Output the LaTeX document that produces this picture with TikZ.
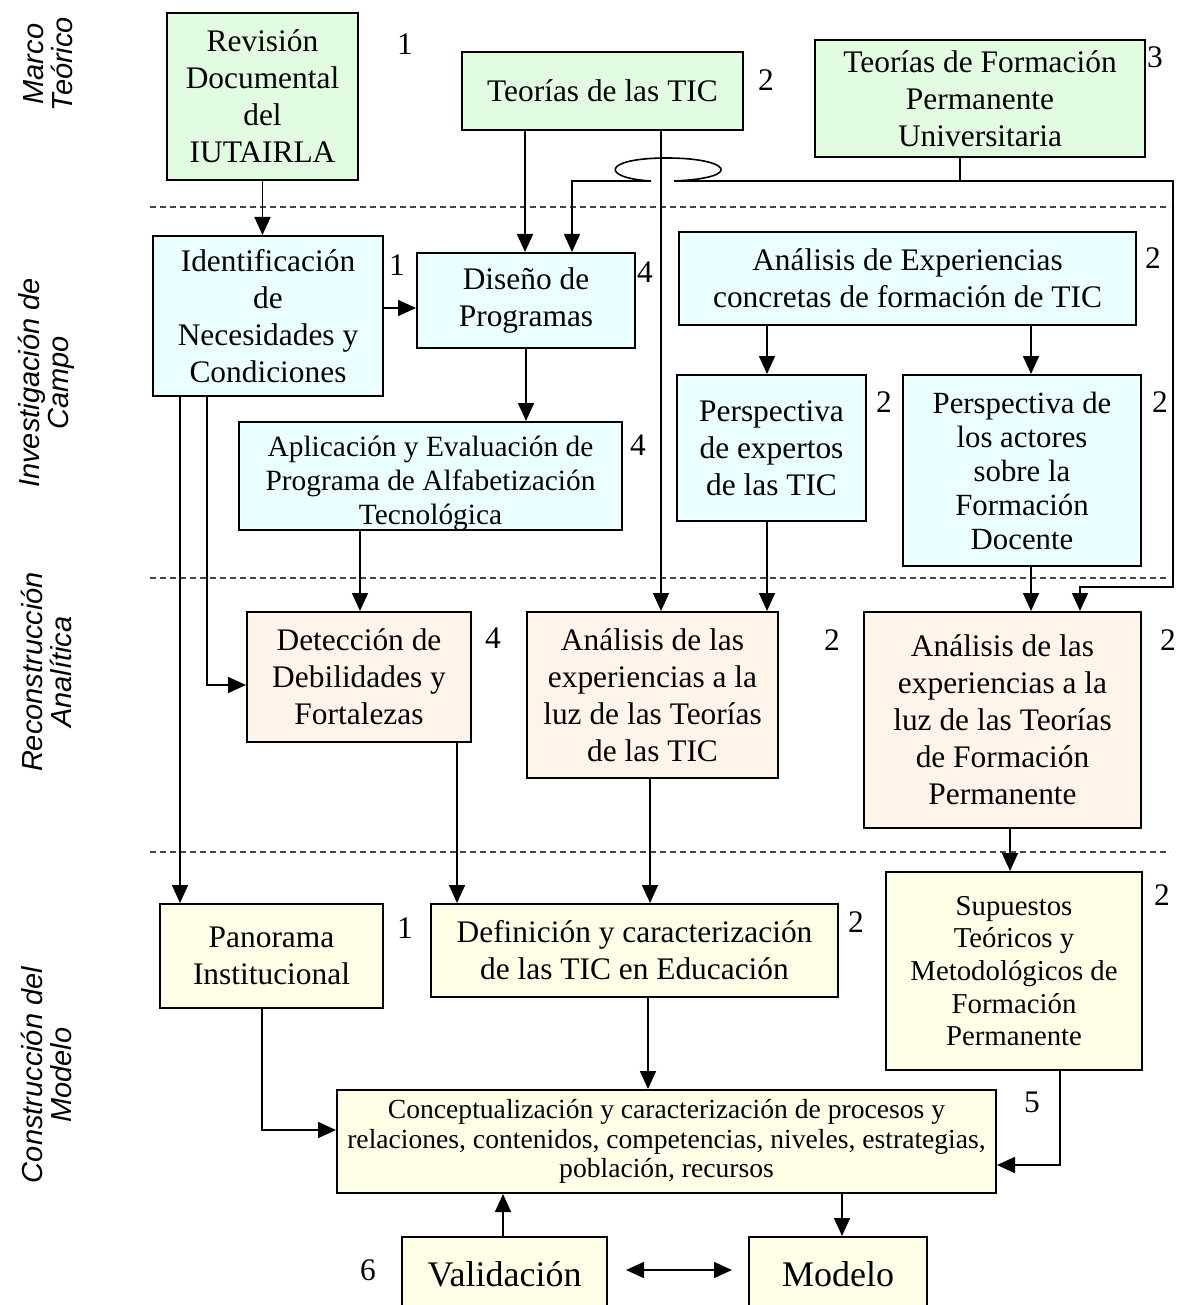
\documentclass[tikz,border=0pt]{standalone}
\usepackage{fontspec}
\setmainfont{Liberation Serif}
\newfontfamily\lblfont{Liberation Sans}
\usetikzlibrary{arrows.meta}
\definecolor{cgreen}{RGB}{226,252,226}
\definecolor{ccyan}{RGB}{234,255,255}
\definecolor{cpeach}{RGB}{255,244,234}
\definecolor{cyellow}{RGB}{255,255,232}
\definecolor{csep}{RGB}{70,70,70}
\newcommand\fsBig{\fontsize{15.7}{18.5}\selectfont}
\newcommand\fsAct{\fontsize{15.4}{17}\selectfont}
\newcommand\fsMid{\fontsize{14.7}{17}\selectfont}
\newcommand\fsSup{\fontsize{14.4}{16.3}\selectfont}
\newcommand\fsCon{\fontsize{13.8}{14.8}\selectfont}
\newcommand\fsVal{\fontsize{18}{21}\selectfont}
\newcommand\fsLbl{\fontsize{14.5}{14.5}\selectfont}
\begin{document}
\begin{tikzpicture}[x=0.5pt,y=-0.5pt,
  box/.style={draw, line width=1pt, inner sep=0pt, align=center, font=\fsBig},
  txt/.style={inner sep=0pt, align=center},
  num/.style={inner sep=0pt, font=\fsBig},
  lbl/.style={inner sep=0pt, align=center, rotate=90, font=\lblfont\itshape\fsLbl},
  arr/.style={line width=0.8pt, -{Triangle[length=9pt,width=8pt]}},
  darr/.style={line width=0.8pt, {Triangle[length=9pt,width=8pt]}-{Triangle[length=9pt,width=8pt]}},
  ln/.style={line width=0.8pt},
  sep/.style={line width=0.7pt, csep, dash pattern=on 3pt off 2pt}]
\useasboundingbox (0,0) rectangle (1178,1305);
\clip (0,0) rectangle (1178,1305);

% separators
\draw[sep] (150,207) -- (1170,207);
\draw[sep] (150,578) -- (1170,578);
\draw[sep] (150,852) -- (1170,852);

% side labels
\node[lbl] (l1) at (48,64) {Marco\\Teórico};
\node[lbl] (l2) at (46,383) {Investigación de\\Campo};
\node[lbl] (l3) at (46,672) {Reconstrucción\\Analítica};
\node[lbl] (l4) at (46,1075) {Construcción del\\Modelo};

% row 1
\node[box, fill=cgreen, minimum width=95.5pt, minimum height=83.5pt] (rev) at (262.5,96.5) {Revisión\\Documental\\del\\IUTAIRLA};
\node[box, fill=cgreen, minimum width=140.5pt, minimum height=39pt] (ttic) at (602.5,91) {Teorías de las TIC};
\node[box, fill=cgreen, minimum width=165pt, minimum height=58.5pt] (tfp) at (980,98.5) {Teorías de Formación\\Permanente\\Universitaria};

% row 2
\node[box, fill=ccyan, minimum width=115pt, minimum height=80pt] (ident) at (268,316) {Identificación\\de\\Necesidades y\\Condiciones};
\node[box, fill=ccyan, minimum width=109pt, minimum height=47.5pt] (dis) at (526,300.5) {Diseño de\\Programas};
\node[box, fill=ccyan, minimum width=228.5pt, minimum height=46.5pt] (aexp) at (907.5,278.5) {Análisis de Experiencias\\concretas de formación de TIC};
\node[box, fill=ccyan, minimum width=191.5pt, minimum height=54pt] (apl) at (430.5,476) {};
\node[txt, font=\fsMid] (aplt) at (430.5,483) {Aplicación y Evaluación de\\Programa de Alfabetización\\Tecnológica};
\node[box, fill=ccyan, minimum width=94.5pt, minimum height=73pt] (pexp) at (771.5,448) {Perspectiva\\de expertos\\de las TIC};
\node[box, fill=ccyan, minimum width=119pt, minimum height=95.5pt, font=\fsAct] (pact) at (1022,470.5) {Perspectiva de\\los actores\\sobre la\\Formación\\Docente};

% row 3
\node[box, fill=cpeach, minimum width=112pt, minimum height=65pt] (det) at (359,677) {Detección de\\Debilidades y\\Fortalezas};
\node[box, fill=cpeach, minimum width=125.5pt, minimum height=83pt] (atic) at (652.5,695) {Análisis de las\\experiencias a la\\luz de las Teorías\\de las TIC};
\node[box, fill=cpeach, minimum width=138.5pt, minimum height=108pt] (afp) at (1002.5,720) {Análisis de las\\experiencias a la\\luz de las Teorías\\de Formación\\Permanente};

% row 4
\node[box, fill=cyellow, minimum width=111.5pt, minimum height=52pt] (pan) at (271.5,956) {Panorama\\Institucional};
\node[box, fill=cyellow, minimum width=203.5pt, minimum height=46.5pt] (def) at (634.5,950.5) {Definición y caracterización\\de las TIC en Educación};
\node[box, fill=cyellow, minimum width=128pt, minimum height=99pt, font=\fsSup] (sup) at (1014,971) {Supuestos\\Teóricos y\\Metodológicos de\\Formación\\Permanente};
\node[box, fill=cyellow, minimum width=329.5pt, minimum height=51.5pt, font=\fsCon] (con) at (666.5,1141.5) {Conceptualización y caracterización de procesos y\\relaciones, contenidos, competencias, niveles, estrategias,\\población, recursos};
\node[box, fill=cyellow, minimum width=102.5pt, minimum height=46.5pt, font=\fsVal] (val) at (504.5,1283.5) {\raisebox{10pt}{Validación}};
\node[box, fill=cyellow, minimum width=89pt, minimum height=46.5pt, font=\fsVal] (mod) at (838,1283.5) {\raisebox{10pt}{Modelo}};

% numbers
\node[num] (n1) at (405,44) {1};
\node[num] (n2) at (766,80) {2};
\node[num] (n3) at (1155,57) {3};
\node[num] (n4) at (397,265) {1};
\node[num] (n5) at (645,272) {4};
\node[num] (n6) at (1153,258) {2};
\node[num] (n7) at (638,445) {4};
\node[num] (n8) at (884,402) {2};
\node[num] (n9) at (1160,402) {2};
\node[num] (n10) at (493,638) {4};
\node[num] (n11) at (832,640) {2};
\node[num] (n12) at (1168,640) {2};
\node[num] (n13) at (405,928) {1};
\node[num] (n14) at (856,922) {2};
\node[num] (n15) at (1162,895) {2};
\node[num] (n16) at (1032,1102) {5};
\node[num] (n17) at (368,1270) {6};

% junction coordinates
\coordinate (jr) at (674,181);
\coordinate (jl) at (651,181);
\coordinate (jt) at (960,181);

% connectors
\draw[arr] (rev.south) -- (rev.south |- ident.north);
\draw[arr] (ttic.south -| 525,0) -- (dis.north -| 525,0);
\draw[arr] (ttic.south -| 661,0) -- (atic.north -| 661,0);
\draw[ln] (tfp.south -| jt) -- (jt);
\draw[arr] (jr) -- (1173,181) -- (1173,587) -- (1080,587) -- (afp.north -| 1080,0);
\draw[arr] (jr) .. controls (745,178) and (730,158) .. (667,158)
  .. controls (602,158) and (600,178) .. (jl) -- (572,181) -- (dis.north -| 572,0);
\draw[arr] (ident.east |- 0,308) -- (dis.west |- 0,308);
\draw[arr] (dis.south) -- (dis.south |- apl.north);
\draw[arr] (aexp.south -| 767,0) -- (pexp.north -| 767,0);
\draw[arr] (aexp.south -| 1031,0) -- (pact.north -| 1031,0);
\draw[arr] (ident.south -| 180,0) -- (pan.north -| 180,0);
\draw[arr] (ident.south -| 207,0) -- (207,685) -- (det.west |- 0,685);
\draw[arr] (apl.south -| 360,0) -- (det.north -| 360,0);
\draw[arr] (pexp.south -| 767,0) -- (atic.north -| 767,0);
\draw[arr] (pact.south -| 1031,0) -- (afp.north -| 1031,0);
\draw[arr] (det.south -| 457,0) -- (def.north -| 457,0);
\draw[arr] (atic.south -| 650,0) -- (def.north -| 650,0);
\draw[arr] (afp.south -| 1010,0) -- (sup.north -| 1010,0);
\draw[arr] (pan.south -| 262,0) -- (262,1130) -- (con.west |- 0,1130);
\draw[arr] (def.south -| 648,0) -- (con.north -| 648,0);
\draw[arr] (sup.south -| 1060,0) -- (1060,1165) -- (con.east |- 0,1165);
\draw[arr] (val.north -| 503,0) -- (con.south -| 503,0);
\draw[arr] (con.south -| 842,0) -- (mod.north -| 842,0);
\draw[darr, shorten <=9pt, shorten >=8pt] (val.east |- 0,1270) -- (mod.west |- 0,1270);
\end{tikzpicture}
\end{document}
